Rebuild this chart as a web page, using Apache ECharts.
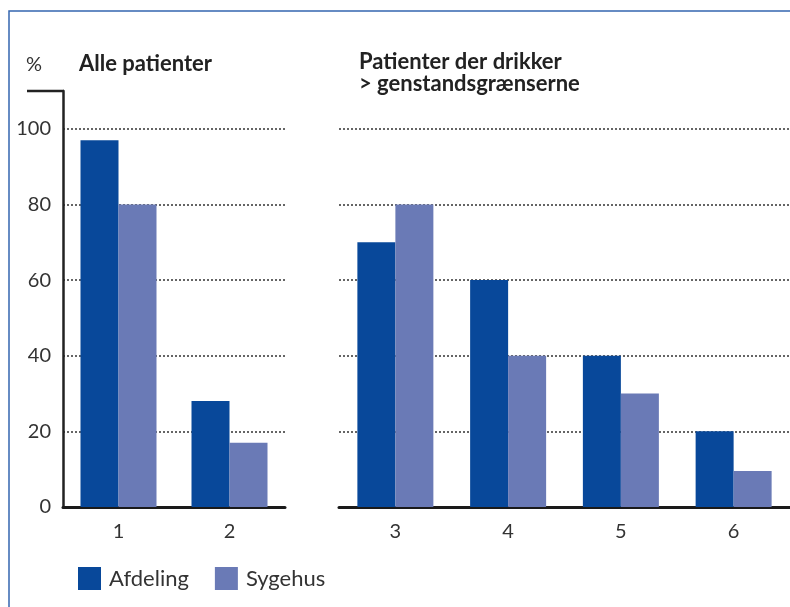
<!DOCTYPE html>
<html>
<head>
<meta charset="utf-8">
<script src="https://cdn.jsdelivr.net/npm/echarts@6/dist/echarts.min.js"></script>
<style>
  html, body { margin: 0; padding: 0; background: #fff; }
  #chart { width: 790px; height: 607px; }
</style>
</head>
<body>
<div id="chart"></div>
<script>
// data
const catsLeft = ['1', '2']
const catsRight = ['3', '4', '5', '6']
const afdelingLeft = [97, 28]
const sygehusLeft = [80, 17]
const afdelingRight = [70, 60, 40, 20]
const sygehusRight = [80, 40, 30, 9.5]
const yMin = 0, yMax = 110, yStep = 20

const blue = '#08489a'
const lilac = '#6a7ab6'
const ink = '#333'
const font = 'Lato, "Open Sans", sans-serif'

const chart = echarts.init(document.getElementById('chart'), null, { renderer: 'canvas' })

// dotted grid, hidden at 0 (under axis) and at the 110 cap
const gridColors = ['transparent', ink, ink, ink, ink, ink, 'transparent']

const yBase = {
  type: 'value', min: yMin, max: yMax, interval: yStep,
  splitLine: { show: true, lineStyle: { color: gridColors, type: [2, 2], width: 1.5 } },
  axisTick: { show: false }
}

const bar = (name, data, idx, color) => ({
  name, type: 'bar', data, xAxisIndex: idx, yAxisIndex: idx,
  barWidth: 38, barGap: '0%', itemStyle: { color }
})

const option = {
  animation: false,
  textStyle: { fontFamily: font },
  graphic: [
    { type: 'rect', shape: { x: 9, y: 11, width: 900, height: 700 }, style: { fill: 'none', stroke: '#3566b0', lineWidth: 1.5 }, silent: true },
    { type: 'text', left: 26, top: 55, style: { text: '%', font: '20px ' + font, fill: ink } },
    { type: 'text', left: 79, top: 53, style: { text: 'Alle patienter', font: 'bold 22px ' + font, fill: '#222' } },
    { type: 'text', left: 359, top: 51, style: { text: 'Patienter der drikker\n> genstandsgrænserne', font: 'bold 22px ' + font, fill: '#222', lineHeight: 22 } }
  ],
  legend: {
    left: 73, top: 562, itemWidth: 23, itemHeight: 23, itemGap: 26, icon: 'rect',
    data: ['Afdeling', 'Sygehus'],
    textStyle: { fontSize: 22, color: ink, padding: [0, 0, 0, 3] }
  },
  grid: [
    { left: 63, width: 222, top: 91, bottom: 100 },
    { left: 339, width: 455, top: 91, bottom: 100 }
  ],
  xAxis: [0, 1].map(i => ({
    type: 'category', gridIndex: i, data: i ? catsRight : catsLeft,
    axisLine: { lineStyle: { color: '#1a1a1a', width: 3 } },
    axisTick: { show: false },
    axisLabel: { fontSize: 20, color: ink, margin: 15 }
  })),
  yAxis: [
    Object.assign({}, yBase, {
      gridIndex: 0,
      axisLine: { show: true, lineStyle: { color: '#222', width: 2.5 } },
      axisLabel: { fontSize: 20, color: ink, margin: 12, showMaxLabel: false,
        formatter: v => (v === yMax ? '' : v) }
    }),
    Object.assign({}, yBase, {
      gridIndex: 1,
      axisLine: { show: false },
      axisLabel: { show: false }
    })
  ],
  series: [
    bar('Afdeling', afdelingLeft, 0, blue),
    bar('Sygehus', sygehusLeft, 0, lilac),
    bar('Afdeling', afdelingRight, 1, blue),
    bar('Sygehus', sygehusRight, 1, lilac)
  ]
}

chart.setOption(option)

// cap at the top of the left value axis
const capY = chart.convertToPixel({ yAxisIndex: 0 }, yMax)
const originX = chart.getModel().getComponent('grid', 0).coordinateSystem.getRect().x
chart.setOption({
  graphic: option.graphic.concat([{
    type: 'line', shape: { x1: 27, y1: capY, x2: originX + 1, y2: capY },
    style: { stroke: '#222', lineWidth: 2.5 }, silent: true
  }])
})
</script>
</body>
</html>
